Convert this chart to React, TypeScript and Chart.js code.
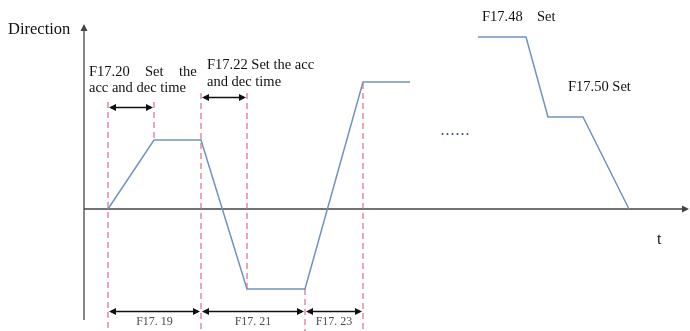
import React, { useEffect, useRef } from "react";
import { Chart, registerables } from "chart.js";

Chart.register(...registerables);

// Coordinate ranges (time units / direction units)
const X_MIN = -8.4;
const X_MAX = 60.6;
const Y_MIN = -12.2;
const Y_MAX = 20.9;

// Axis extents
const axisTEnd = 60.5;
const axisVTop = 18.5;
const axisVBottom = -11.1;

// Speed profile, first part
const profileA_t = [2.4, 7.0, 11.7, 16.3, 22.1, 27.9, 32.6];
const profileA_v = [0, 6.9, 6.9, -8.0, -8.0, 12.7, 12.7];
// Speed profile, second part
const profileB_t = [39.4, 44.2, 46.4, 49.9, 54.5];
const profileB_v = [17.2, 17.2, 9.2, 9.2, 0];

// Red dashed markers
const markerT = [2.4, 7.0, 11.7, 16.3, 22.1, 27.9];
const markerTop = [10.7, 10.7, 11.6, 11.6, -8.0, 12.6];
const markerBottom = [-12.2, 6.9, -12.2, -8.0, -12.2, -12.2];

// Double-headed interval arrows
const spanStart = [2.4, 11.7, 2.4, 11.7, 22.1];
const spanEnd = [7.0, 16.3, 11.7, 22.1, 27.9];
const spanLevel = [10.2, 11.2, -10.2, -10.2, -10.2];
const spanLabels = ["", "", "F17. 19", "F17. 21", "F17. 23"];
const spanLabelLevel = -11.6;

// Annotation texts
const noteTexts = [
  "F17.20",
  "Set",
  "the",
  "acc and dec time",
  "F17.22 Set the acc",
  "and dec time",
  "F17.48",
  "Set",
  "F17.50 Set",
];
const noteT = [0.5, 6.1, 9.5, 0.5, 12.3, 12.3, 39.8, 45.3, 48.4];
const noteV = [13.3, 13.3, 13.3, 11.7, 14.0, 12.3, 18.8, 18.8, 11.8];

const yAxisTitle = "Direction";
const yAxisTitlePos = [-7.6, 17.5];
const xAxisTitle = "t";
const xAxisTitlePos = [57.3, -3.5];
const ellipsis = "......";
const ellipsisPos = [35.7, 7.4];

const BLUE = "#7191c2";
const RED = "rgba(222,96,120,0.8)";
const AXIS = "#444444";

function arrowHead(ctx: CanvasRenderingContext2D, x: number, y: number, dir: number) {
  ctx.beginPath();
  ctx.moveTo(x, y);
  ctx.lineTo(x - dir * 7, y - 3.5);
  ctx.lineTo(x - dir * 7, y + 3.5);
  ctx.closePath();
  ctx.fill();
}

const overlay = {
  id: "overlay",
  beforeDatasetsDraw(chart: any) {
    const ctx = chart.ctx as CanvasRenderingContext2D;
    const xs = chart.scales.x;
    const ys = chart.scales.y;
    const px = (v: number) => xs.getPixelForValue(v);
    const py = (v: number) => ys.getPixelForValue(v);
    ctx.save();
    ctx.strokeStyle = AXIS;
    ctx.fillStyle = AXIS;
    ctx.lineWidth = 1.3;
    // x axis
    ctx.beginPath();
    ctx.moveTo(px(0), py(0));
    ctx.lineTo(px(axisTEnd) - 4, py(0));
    ctx.stroke();
    arrowHead(ctx, px(axisTEnd), py(0), 1);
    // y axis
    ctx.beginPath();
    ctx.moveTo(px(0), py(axisVBottom));
    ctx.lineTo(px(0), py(axisVTop) + 4);
    ctx.stroke();
    ctx.beginPath();
    ctx.moveTo(px(0), py(axisVTop));
    ctx.lineTo(px(0) - 3.5, py(axisVTop) + 7);
    ctx.lineTo(px(0) + 3.5, py(axisVTop) + 7);
    ctx.closePath();
    ctx.fill();
    ctx.restore();
  },
  afterDatasetsDraw(chart: any) {
    const ctx = chart.ctx as CanvasRenderingContext2D;
    const xs = chart.scales.x;
    const ys = chart.scales.y;
    const px = (v: number) => xs.getPixelForValue(v);
    const py = (v: number) => ys.getPixelForValue(v);
    ctx.save();
    // interval arrows
    ctx.strokeStyle = "#111111";
    ctx.fillStyle = "#111111";
    ctx.lineWidth = 1.3;
    for (let i = 0; i < spanStart.length; i++) {
      const x1 = px(spanStart[i]);
      const x2 = px(spanEnd[i]);
      const y = Math.round(py(spanLevel[i])) + 0.5;
      ctx.beginPath();
      ctx.moveTo(x1 + 3, y);
      ctx.lineTo(x2 - 3, y);
      ctx.stroke();
      arrowHead(ctx, x1 + 1, y, -1);
      arrowHead(ctx, x2 - 1, y, 1);
      if (spanLabels[i]) {
        ctx.font = "12px 'Liberation Serif'";
        ctx.fillStyle = "#4a4a4a";
        ctx.textAlign = "center";
        ctx.textBaseline = "alphabetic";
        ctx.fillText(spanLabels[i], (x1 + x2) / 2, py(spanLabelLevel));
        ctx.fillStyle = "#111111";
      }
    }
    // annotations
    ctx.fillStyle = "#111111";
    ctx.textAlign = "left";
    ctx.textBaseline = "alphabetic";
    ctx.font = "14.5px 'Liberation Serif'";
    for (let i = 0; i < noteTexts.length; i++) {
      ctx.fillText(noteTexts[i], px(noteT[i]), py(noteV[i]));
    }
    ctx.font = "16.5px 'Liberation Serif'";
    ctx.fillText(yAxisTitle, px(yAxisTitlePos[0]), py(yAxisTitlePos[1]));
    ctx.font = "16px 'Liberation Serif'";
    ctx.fillText(xAxisTitle, px(xAxisTitlePos[0]), py(xAxisTitlePos[1]));
    ctx.fillStyle = "#3d4f7a";
    ctx.font = "bold 12px 'Liberation Serif'";
    (ctx as any).letterSpacing = "2px";
    ctx.fillText(ellipsis, px(ellipsisPos[0]), py(ellipsisPos[1]));
    ctx.restore();
  },
};

export default function App() {
  const ref = useRef<HTMLCanvasElement | null>(null);
  useEffect(() => {
    if (!ref.current) return;
    const line = (t: number[], v: number[]) => t.map((x, i) => ({ x, y: v[i] }));
    const markerSets = markerT.map((t, i) => ({
      data: [
        { x: t, y: markerTop[i] },
        { x: t, y: markerBottom[i] },
      ],
      borderColor: RED,
      borderWidth: 1.4,
      borderDash: [6, 4],
      pointRadius: 0,
      fill: false,
      order: 2,
    }));
    const chart = new Chart(ref.current, {
      type: "line",
      data: {
        datasets: [
          ...markerSets,
          {
            data: line(profileA_t, profileA_v),
            borderColor: BLUE,
            borderWidth: 1.5,
            pointRadius: 0,
            fill: false,
            tension: 0,
            order: 1,
          },
          {
            data: line(profileB_t, profileB_v),
            borderColor: BLUE,
            borderWidth: 1.5,
            pointRadius: 0,
            fill: false,
            tension: 0,
            order: 1,
          },
        ] as any,
      },
      options: {
        animation: false,
        responsive: false,
        devicePixelRatio: 1,
        parsing: false,
        layout: { padding: 0 },
        plugins: { legend: { display: false }, tooltip: { enabled: false } },
        scales: {
          x: { type: "linear", min: X_MIN, max: X_MAX, display: false },
          y: { type: "linear", min: Y_MIN, max: Y_MAX, display: false },
        },
      },
      plugins: [overlay],
    });
    return () => chart.destroy();
  }, []);
  return (
    <div style={{ position: "fixed", left: 0, top: 0, width: 690, height: 331, background: "#fff" }}>
      <canvas ref={ref} width={690} height={331} style={{ display: "block", width: 690, height: 331 }} />
    </div>
  );
}
